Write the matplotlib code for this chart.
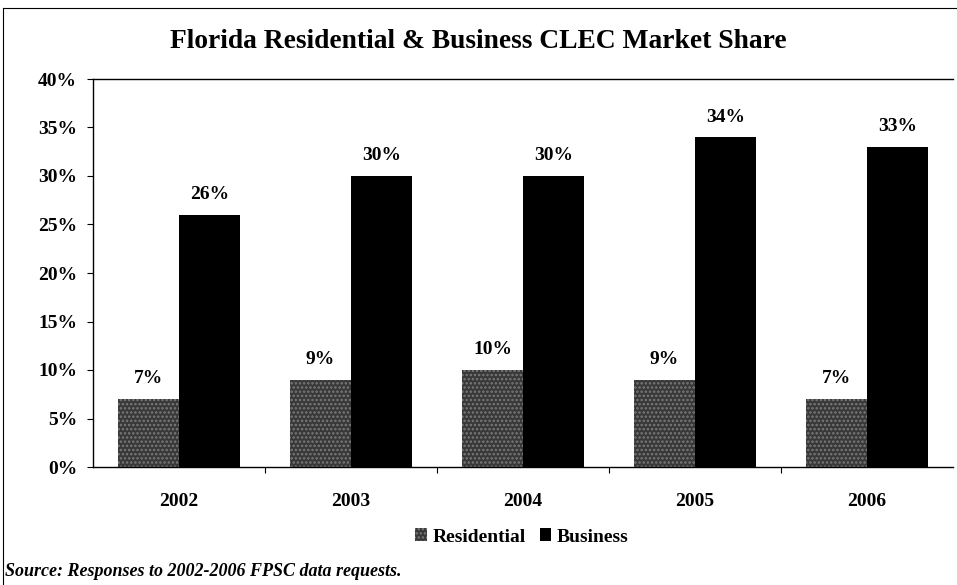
import numpy as np
import matplotlib.pyplot as plt

years = ['2002', '2003', '2004', '2005', '2006']
residential = [7, 9, 10, 9, 7]
business = [26, 30, 30, 34, 33]
yticks = [0, 5, 10, 15, 20, 25, 30, 35, 40]

plt.rcParams['font.family'] = ['Liberation Serif', 'DejaVu Serif']
plt.rcParams['hatch.linewidth'] = 1.2

fig = plt.figure(figsize=(9.57, 5.85), dpi=100)
ax = fig.add_axes([93 / 957, 1 - 467 / 585, 860 / 957, 388 / 585])

x = np.arange(len(years))
w = 0.355
ax.bar(x - w / 2, residential, w, color='#383838', hatch='....',
       edgecolor='#7a7a7a', linewidth=0, label='Residential')
ax.bar(x + w / 2, business, w, color='black', linewidth=0, label='Business')

for xi, v in zip(x, residential):
    ax.text(xi - w / 2, v + 1.2, f'{v}%', ha='center', va='bottom',
            fontsize=14, fontweight='bold')
for xi, v in zip(x, business):
    ax.text(xi + w / 2, v + 1.2, f'{v}%', ha='center', va='bottom',
            fontsize=14, fontweight='bold')

ax.set_xlim(-0.5, 4.5)
ax.set_ylim(0, 40)
ax.set_yticks(yticks)
ax.set_yticklabels([f'{t}%' for t in yticks], fontsize=14, fontweight='bold')
ax.set_xticks(x)
ax.set_xticklabels(years, fontsize=14, fontweight='bold')
ax.tick_params(axis='x', length=0, pad=19)
ax.set_xticks(x[:-1] + 0.5, minor=True)
ax.tick_params(axis='x', which='minor', length=4, width=0.8)
ax.tick_params(axis='y', length=4.5, width=0.8, pad=7)
ax.spines['right'].set_visible(False)
for s in ['left', 'top', 'bottom']:
    ax.spines[s].set_linewidth(1.0)

fig.text(0.5, 1 - 41 / 585, 'Florida Residential & Business CLEC Market Share',
         ha='center', va='center', fontsize=19.8, fontweight='bold')

fig.legend(loc='center', bbox_to_anchor=(522 / 957, 1 - 537 / 585), ncol=2, frameon=False,
           prop={'size': 14, 'weight': 'bold'}, handlelength=0.6, handleheight=0.6,
           handletextpad=0.3, columnspacing=0.7)

fig.text(5 / 957, 1 - 572 / 585, 'Source: Responses to 2002-2006 FPSC data requests.',
         ha='left', va='center', fontsize=13, fontweight='bold', style='italic')

# scanned page border
fig.add_artist(plt.Line2D([3 / 957, 3 / 957], [0, 1 - 8 / 585], color='black', lw=0.8))
fig.add_artist(plt.Line2D([3 / 957, 1], [1 - 8 / 585, 1 - 8 / 585], color='black', lw=0.8))

fig.savefig('out.png', dpi=100)
